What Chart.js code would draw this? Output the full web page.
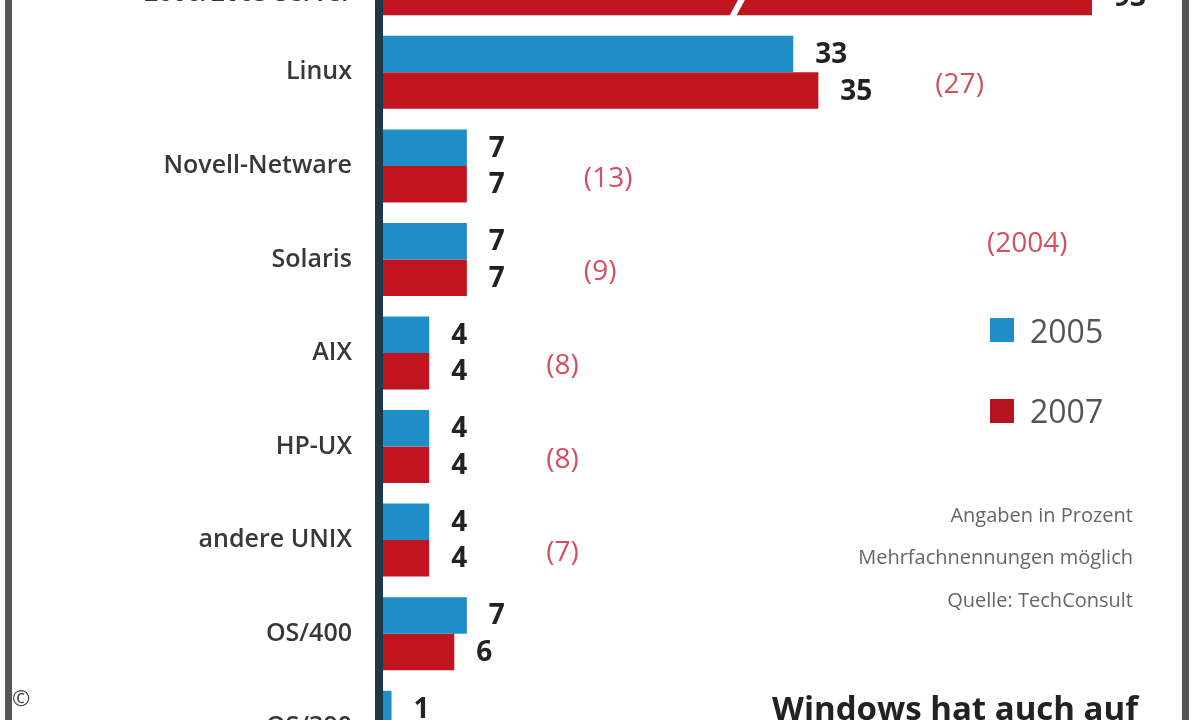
<!DOCTYPE html>
<html>
<head>
<meta charset="utf-8">
<script src="https://cdn.jsdelivr.net/npm/chart.js@4.4.1/dist/chart.umd.min.js"></script>
<style>
  html, body { margin:0; padding:0; width:1200px; height:720px; overflow:hidden; background:#fff; }
  #wrap { position:absolute; left:0; top:-68px; width:1200px; height:842px; }
  .t { position:absolute; white-space:nowrap; font-family:"Open Sans","Noto Sans",sans-serif; }
  .frameL { position:absolute; left:5px; top:0; width:7px; height:720px; background:#555; }
  .frameR { position:absolute; left:1182px; top:0; width:7px; height:720px; background:#555; }
  .sq { position:absolute; width:24px; height:24px; }
</style>
</head>
<body>
<div class="frameL"></div>
<div class="frameR"></div>
<div id="wrap"><canvas id="c" width="1200" height="842"></canvas></div>

<div class="t" style="left:987px; top:224px; font-size:28px; line-height:34px; color:#d2505e;">(2004)</div>
<div class="sq" style="left:990px; top:318px; background:#1f8ec8;"></div>
<div class="t" style="left:1030px; top:312px; font-size:32px; line-height:38px; color:#555;">2005</div>
<div class="sq" style="left:990px; top:399px; background:#b5141f;"></div>
<div class="t" style="left:1030px; top:392px; font-size:32px; line-height:38px; color:#555;">2007</div>

<div class="t" style="right:67px; top:502px; font-size:20px; line-height:26px; color:#666;">Angaben in Prozent</div>
<div class="t" style="right:67px; top:544px; font-size:20px; line-height:26px; color:#666;">Mehrfachnennungen möglich</div>
<div class="t" style="right:67px; top:587px; font-size:20px; line-height:26px; color:#666;">Quelle: TechConsult</div>

<div class="t" style="right:62px; top:688px; font-size:33px; line-height:40px; font-weight:700; color:#222;">Windows hat auch auf</div>
<div class="t" style="left:12px; top:683px; font-size:22px; line-height:28px; color:#444;">©</div>

<script>
const categories = [["Windows", "2000/2003 Server"], "Linux", "Novell-Netware", "Solaris", "AIX", "HP-UX", "andere UNIX", "OS/400", "OS/390"];
const values2005 = [89, 33, 7, 7, 4, 4, 4, 7, 1];
const values2007 = [93, 35, 7, 7, 4, 4, 4, 6, 1];
const values2004 = [null, 27, 13, 9, 8, 8, 7, null, null];

const BLUE = '#1f8ec8';
const RED = '#c0141e';
const breakAt = 29;

const labelPlugin = {
  id: 'labels',
  afterDatasetsDraw(chart) {
    const ctx = chart.ctx;
    const area = chart.chartArea;
    const xs = chart.scales.x;
    const ys = chart.scales.y;
    ctx.save();
    const redMeta = chart.getDatasetMeta(1);
    values2007.forEach((v, i) => {
      if (v > xs.max) {
        const b = redMeta.data[i];
        const bx = xs.getPixelForValue(breakAt);
        const top = b.y - b.height / 2, bot = b.y + b.height / 2;
        ctx.strokeStyle = '#ffffff';
        ctx.lineWidth = 6;
        ctx.beginPath();
        ctx.moveTo(bx - 12, bot + 4);
        ctx.lineTo(bx + 12, top - 4);
        ctx.stroke();
      }
    });
    ctx.font = 'bold 28px "Open Sans", sans-serif';
    ctx.fillStyle = '#222';
    ctx.textAlign = 'left';
    ctx.textBaseline = 'middle';
    [values2005, values2007].forEach((arr, di) => {
      const meta = chart.getDatasetMeta(di);
      arr.forEach((v, i) => {
        const b = meta.data[i];
        const x = Math.min(b.x, area.right);
        ctx.fillText(String(v), x + 22, b.y + 1);
      });
    });
    ctx.font = '28px "Open Sans", sans-serif';
    ctx.fillStyle = '#d2505e';
    values2004.forEach((v, i) => {
      if (v === null) return;
      const b = redMeta.data[i];
      const x = Math.min(b.x, area.right);
      ctx.fillText('(' + v + ')', x + 117, ys.getPixelForValue(i) + 13);
    });
    ctx.restore();
  }
};

new Chart(document.getElementById('c'), {
  type: 'bar',
  data: {
    labels: categories,
    datasets: [
      { label: '2005', data: values2005, backgroundColor: BLUE, clip: 0, categoryPercentage: 0.78, barPercentage: 1.0 },
      { label: '2007', data: values2007, backgroundColor: RED, clip: 0, categoryPercentage: 0.78, barPercentage: 1.0 }
    ]
  },
  options: {
    indexAxis: 'y',
    responsive: false,
    animation: false,
    layout: { padding: { left: 0, right: 108, top: 0, bottom: 0 } },
    plugins: { legend: { display: false }, tooltip: { enabled: false } },
    scales: {
      x: { display: false, min: 0, max: 56.8 },
      y: {
        grid: { display: false, drawTicks: false },
        border: { display: true, color: '#203844', width: 8, z: 1 },
        ticks: { color: '#383838', padding: 27, font: { family: '"Open Sans", sans-serif', size: 25, weight: '600' } },
        afterFit(scale) { scale.width = 379; scale.paddingTop = 0; scale.paddingBottom = 0; }
      }
    }
  },
  plugins: [labelPlugin]
});
</script>
</body>
</html>
